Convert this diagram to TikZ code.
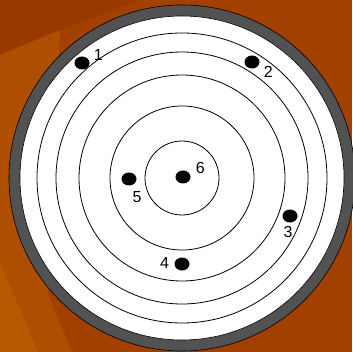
\documentclass[tikz,border=0pt]{standalone}
\usepackage{fontspec}
\setmainfont{Liberation Sans}
\usepackage{xcolor}
\usepackage{tikz}
\usetikzlibrary{positioning,shapes.geometric}
\definecolor{bgbase}{HTML}{A24000}
\definecolor{bgdark}{HTML}{983A00}
\definecolor{bglight}{HTML}{AE4E00}
\definecolor{bgpale}{HTML}{B85800}
\definecolor{rimgray}{HTML}{525252}
\tikzset{
  rim/.style     ={fill=rimgray,draw=black,line width=0.6pt},
  face/.style    ={fill=white,draw=black,line width=0.6pt},
  ringline/.style={draw=black,line width=0.8pt},
  dot/.style     ={ellipse,fill=black,inner sep=0pt,minimum width=15pt,
                   minimum height=13pt},
  num/.style     ={inner sep=0pt,font=\fontsize{16}{18}\selectfont}
}

\begin{document}
\begin{tikzpicture}[x=1pt,y=-1pt]
    \useasboundingbox (0,0) rectangle (352,352);
    % background
    \fill[bgbase] (0,0) rectangle (352,352);
    \fill[bgdark] (0,0) -- (140,0) -- (60,30) -- (0,55) -- cycle;
    \fill[bglight] (0,55) -- (60,30) -- (48,295) -- (72,352) -- (0,352) -- cycle;
    \fill[bgpale] (0,262) -- (38,352) -- (0,352) -- cycle;
    % target
    \coordinate (c) at (182,178);
    \draw[rim] (c) circle (173);
    \draw[face] (c) circle (162);
    \foreach \r in {145,126,103,72,37}
      \draw[ringline] (c) circle (\r);
    % hits
    \node[dot] (d1) at (82,63) {};
    \node[dot] (d2) at (252,62) {};
    \node[dot] (d3) at (290,216) {};
    \node[dot] (d4) at (182,264) {};
    \node[dot] (d5) at (129,179) {};
    \node[dot] (d6) at (183,177) {};
    \node[num,right=4pt of d1,yshift=8pt] (n1) {1};
    \node[num,right=4pt of d2,yshift=-10pt] (n2) {2};
    \node[num,below=3pt of d3,xshift=-2pt] (n3) {3};
    \node[num,left=5pt of d4,yshift=1pt] (n4) {4};
    \node[num,below=6pt of d5,xshift=8pt] (n5) {5};
    \node[num,right=5pt of d6,yshift=9pt] (n6) {6};
  \end{tikzpicture}
\end{document}
